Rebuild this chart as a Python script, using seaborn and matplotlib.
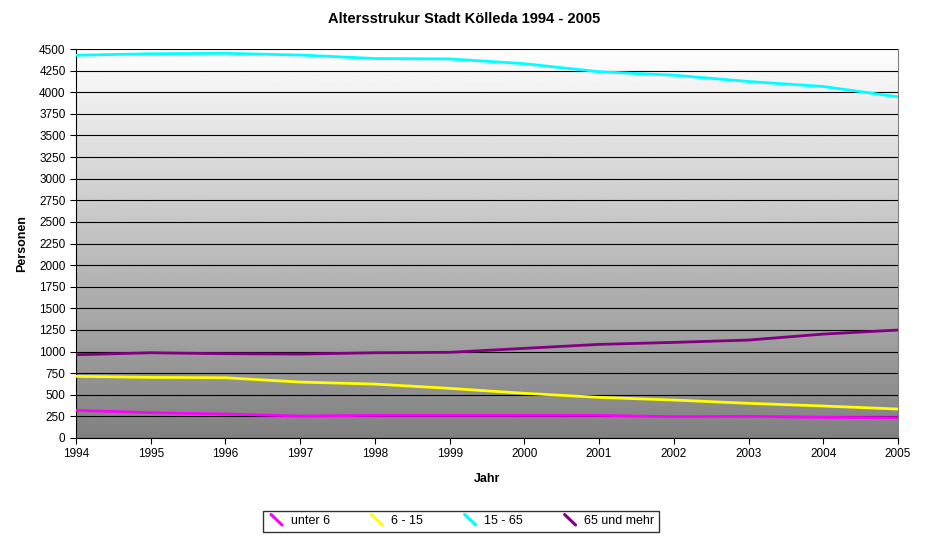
import numpy as np
import pandas as pd
import seaborn as sns
import matplotlib.pyplot as plt
from matplotlib.lines import Line2D
from matplotlib.legend_handler import HandlerLine2D

jahre = list(range(1994, 2006))
unter_6 = [320, 293, 277, 254, 262, 262, 262, 262, 246, 250, 239, 235]
von_6_15 = [713, 701, 697, 647, 624, 574, 517, 470, 439, 401, 370, 335]
von_15_65 = [4428, 4445, 4450, 4430, 4390, 4385, 4330, 4237, 4197, 4124, 4066, 3946]
ab_65 = [963, 986, 975, 971, 986, 991, 1037, 1083, 1106, 1133, 1202, 1249]

gruppen = ["unter 6", "6 - 15", "15 - 65", "65 und mehr"]
farben = ["#FF00FF", "#FFFF00", "#00FFFF", "#800080"]

df = pd.DataFrame({"Jahr": jahre, "unter 6": unter_6, "6 - 15": von_6_15,
                   "15 - 65": von_15_65, "65 und mehr": ab_65})
long_df = df.melt(id_vars="Jahr", var_name="Gruppe", value_name="Personen")

sns.set_style("white")
plt.rcParams['font.family'] = ['Liberation Sans', 'DejaVu Sans']
plt.rcParams.update({"text.color": "black", "axes.labelcolor": "black",
                     "xtick.color": "black", "ytick.color": "black"})

fig = plt.figure(figsize=(9.29, 5.44), dpi=100)
ax = fig.add_axes([76 / 929, 106 / 544, 822 / 929, 389 / 544])

# gradient background white -> grey
grad = np.linspace(0.5, 1.0, 256).reshape(-1, 1)
ax.imshow(grad, cmap="gray", vmin=0, vmax=1, aspect="auto", origin="lower",
          extent=[1994, 2005, 0, 4500], zorder=0)

sns.lineplot(data=long_df, x="Jahr", y="Personen", hue="Gruppe", hue_order=gruppen,
             palette=farben, linewidth=2.0, ax=ax, legend=False, zorder=3)

ax.set_xlim(1994, 2005)
ax.set_ylim(0, 4500)
ax.set_xticks(jahre)
ax.set_xticklabels([str(j) for j in jahre])
ax.set_yticks(range(0, 4501, 250))
ax.yaxis.grid(True, color="black", linewidth=0.8)
ax.xaxis.grid(False)
ax.set_axisbelow(False)
for line in ax.get_ygridlines():
    line.set_zorder(1)
ax.tick_params(axis="both", labelsize=8.5, direction="out", length=4, width=0.8,
               color="black", labelcolor="black", bottom=True, left=True)
for s in ["left", "bottom"]:
    ax.spines[s].set_color("black")
    ax.spines[s].set_linewidth(0.8)
ax.spines["right"].set_color("#808080")
ax.spines["top"].set_visible(False)

ax.set_xlabel("Jahr", fontsize=9, fontweight="bold", labelpad=9, color="black")
ax.set_ylabel("Personen", fontsize=9, fontweight="bold", labelpad=8, color="black")
fig.suptitle("Altersstrukur Stadt Kölleda 1994 - 2005", fontsize=10.5,
             fontweight="bold", y=0.978, color="black")


class DiagHandler(HandlerLine2D):
    def create_artists(self, legend, orig_handle, xdescent, ydescent, width,
                       height, fontsize, trans):
        ln = Line2D([xdescent + width * 0.2, xdescent + width * 0.75],
                    [height * 1.1 - ydescent, -0.1 * height - ydescent],
                    color=orig_handle.get_color(), linewidth=2.2)
        ln.set_transform(trans)
        return [ln]


handles = [Line2D([0], [0], color=c, linewidth=2.2) for c in farben]
leg = fig.legend(handles, gruppen, loc="center", bbox_to_anchor=(0.496, 0.042),
                 ncol=4, frameon=True, fancybox=False, fontsize=9,
                 handlelength=1.6, handletextpad=0.3, columnspacing=3.0,
                 borderpad=0.35, handler_map={Line2D: DiagHandler()})
leg.get_frame().set_edgecolor("black")
leg.get_frame().set_linewidth(1)
for t in leg.get_texts():
    t.set_color("black")

fig.savefig("out.png", dpi=100)
